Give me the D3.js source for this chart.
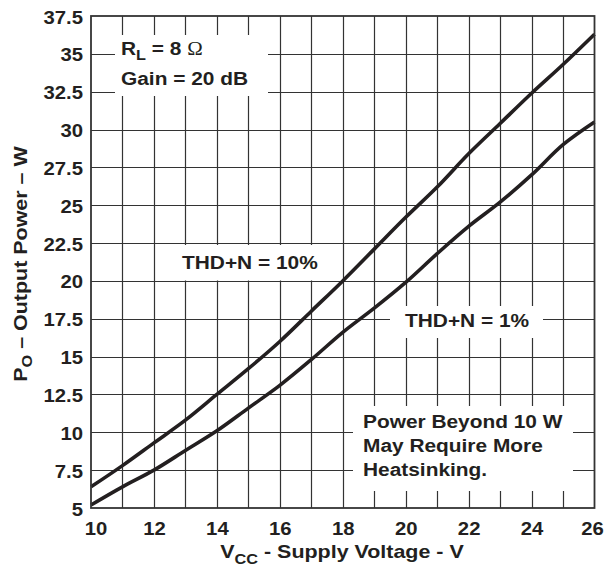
<!DOCTYPE html>
<html>
<head>
<meta charset="utf-8">
<script src="https://cdn.jsdelivr.net/npm/d3@7/dist/d3.min.js"></script>
<style>
  html, body { margin: 0; padding: 0; background: #fff; }
  svg { display: block; }
  text { font-family: "Liberation Sans", Arial, sans-serif; font-weight: bold; fill: #231f20; }
</style>
</head>
<body>
<svg id="chart" width="608" height="581"></svg>
<script>
// ---- data ----
const vcc = [10, 11, 12, 13, 14, 15, 16, 17, 18, 19, 20, 21, 22, 23, 24, 25, 26];
const thd10 = [6.4, 7.8, 9.3, 10.8, 12.5, 14.2, 16.0, 18.0, 20.0, 22.1, 24.2, 26.2, 28.4, 30.4, 32.4, 34.3, 36.3];
const thd1 = [5.2, 6.4, 7.5, 8.8, 10.1, 11.6, 13.1, 14.8, 16.6, 18.2, 19.9, 21.8, 23.6, 25.2, 27.0, 29.0, 30.5];
const xTicks = [10, 12, 14, 16, 18, 20, 22, 24, 26];
const xGrid = [11, 12, 13, 14, 15, 16, 17, 18, 19, 20, 21, 22, 23, 24, 25];
const yTicks = [5, 7.5, 10, 12.5, 15, 17.5, 20, 22.5, 25, 27.5, 30, 32.5, 35, 37.5];
const yTickLabels = ["5", "7.5", "10", "12.5", "15", "17.5", "20", "22.5", "25", "27.5", "30", "32.5", "35", "37.5"];
const yGrid = [7.5, 10, 12.5, 15, 17.5, 20, 22.5, 25, 27.5, 30, 32.5, 35];

const svg = d3.select("#chart");
const L = 91, R = 594.5, T = 16, B = 508;
const x = d3.scaleLinear().domain([10, 26]).range([L, R]);
const y = d3.scaleLinear().domain([5, 37.5]).range([B, T]);
const SX = 1.16;
const ink = "#231f20";

// grid
const grid = svg.append("g");
grid.selectAll("line.v").data(xGrid).join("line")
  .attr("x1", d => Math.round(x(d)) + 0.5).attr("x2", d => Math.round(x(d)) + 0.5)
  .attr("y1", T).attr("y2", B)
  .attr("stroke", "#333").attr("stroke-width", 1.2);
grid.selectAll("line.h").data(yGrid).join("line")
  .attr("y1", d => Math.round(y(d)) + 0.5).attr("y2", d => Math.round(y(d)) + 0.5)
  .attr("x1", L).attr("x2", R)
  .attr("stroke", "#333").attr("stroke-width", 1.2);

// white label boxes hiding the grid
const boxes = [
  [115, 35, 268, 96],
  [158, 245, 339, 280.5],
  [390, 306, 543, 338],
  [353, 406, 573, 491]
];
svg.append("g").selectAll("rect").data(boxes).join("rect")
  .attr("x", d => d[0]).attr("y", d => d[1])
  .attr("width", d => d[2] - d[0]).attr("height", d => d[3] - d[1])
  .attr("fill", "#fff");

// curves
const line = d3.line().x((d, i) => x(vcc[i])).y(d => y(d)).curve(d3.curveCatmullRom.alpha(0.5));
[thd10, thd1].forEach(s => {
  svg.append("path").datum(s).attr("d", line)
    .attr("fill", "none").attr("stroke", ink).attr("stroke-width", 3.6)
    .attr("stroke-linejoin", "round");
});

// frame
svg.append("rect").attr("x", L).attr("y", T).attr("width", R - L).attr("height", B - T)
  .attr("fill", "none").attr("stroke", "#333").attr("stroke-width", 1.8);

// axes (labels only)
const xAxis = svg.append("g").attr("transform", `translate(0,${B})`)
  .call(d3.axisBottom(x).tickValues(xTicks).tickSize(0).tickFormat(d3.format("d")));
xAxis.select(".domain").remove();
xAxis.selectAll("text")
  .attr("y", 27).attr("dy", 0)
  .attr("x", d => d === 10 ? 4.5 / SX : (d === 26 ? -2.5 / SX : 0))
  .attr("transform", `scale(${SX},1)`)
  .style("font-size", "17.5px").style("font-family", "Liberation Sans, Arial, sans-serif")
  .style("font-weight", "bold").attr("fill", ink);

const yAxis = svg.append("g").attr("transform", `translate(${L},0)`)
  .call(d3.axisLeft(y).tickValues(yTicks).tickSize(0).tickFormat((d, i) => yTickLabels[i]));
yAxis.select(".domain").remove();
yAxis.selectAll("text")
  .attr("x", -8 / SX).attr("dy", "0.4em")
  .attr("transform", `scale(${SX},1)`)
  .style("font-size", "17.5px").style("font-family", "Liberation Sans, Arial, sans-serif")
  .style("font-weight", "bold").attr("fill", ink);

// helper for stretched text
function label(px, py, size, anchor, rot) {
  const t = svg.append("text")
    .attr("transform", `translate(${px},${py})` + (rot ? ` rotate(${rot})` : "") + ` scale(${SX},1)`)
    .attr("text-anchor", anchor || "start")
    .style("font-size", size + "px");
  return t;
}

// annotations
let t = label(121, 55, 18);
t.append("tspan").text("R");
t.append("tspan").text("L").attr("dy", 5).style("font-size", "14px");
t.append("tspan").text(" = 8 ").attr("dy", -5);
t.append("tspan").text("Ω").style("font-weight", "normal").style("font-family", "Liberation Serif, serif");
label(121, 85, 18).text("Gain = 20 dB");

label(182, 269, 18).text("THD+N = 10%");
label(405, 327, 18).text("THD+N = 1%");
label(363, 428, 18).text("Power Beyond 10 W");
label(363, 452, 18).text("May Require More");
label(363, 476, 18).text("Heatsinking.");

// axis titles
t = label(342, 558, 18.5, "middle");
t.append("tspan").text("V");
t.append("tspan").text("CC").attr("dy", 6).style("font-size", "14px");
t.append("tspan").text(" - Supply Voltage - V").attr("dy", -6);

t = label(27, 264, 18.5, "middle", -90);
t.append("tspan").text("P");
t.append("tspan").text("O").attr("dy", 5).style("font-size", "14px");
t.append("tspan").text(" – Output Power – W").attr("dy", -5);
</script>
</body>
</html>
